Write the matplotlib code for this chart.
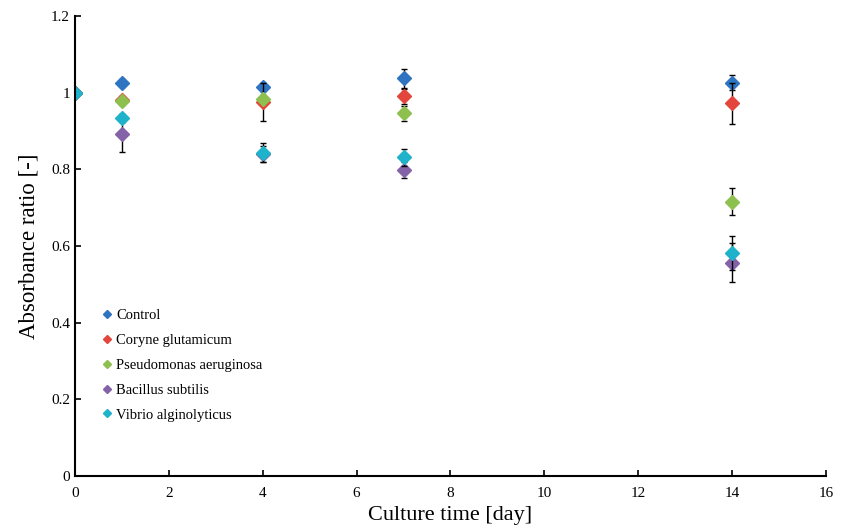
import matplotlib
matplotlib.use("Agg")
import matplotlib.pyplot as plt

# Culture days and absorbance ratios (mean, error) per strain
days = [0, 1, 4, 7, 14]

control = [1.0, 1.025, 1.015, 1.037, 1.026]
control_err = [0.0, 0.01, 0.01, 0.024, 0.02]

coryne = [1.0, 0.98, 0.975, 0.99, 0.972]
coryne_err = [0.0, 0.01, 0.05, 0.02, 0.054]

pseudomonas = [1.0, 0.978, 0.983, 0.946, 0.716]
pseudomonas_err = [0.0, 0.01, 0.01, 0.02, 0.035]

bacillus = [1.0, 0.892, 0.84, 0.798, 0.557]
bacillus_err = [0.0, 0.047, 0.02, 0.021, 0.05]

vibrio = [1.0, 0.934, 0.843, 0.831, 0.581]
vibrio_err = [0.0, 0.01, 0.025, 0.021, 0.044]

series = [
    ("Control", control, control_err, "#2F74C0"),
    ("Coryne glutamicum", coryne, coryne_err, "#E2463C"),
    ("Pseudomonas aeruginosa", pseudomonas, pseudomonas_err, "#8DC04F"),
    ("Bacillus subtilis", bacillus, bacillus_err, "#8462A8"),
    ("Vibrio alginolyticus", vibrio, vibrio_err, "#1FB3CB"),
]

plt.rcParams["font.family"] = ["Liberation Serif", "DejaVu Serif"]

fig = plt.figure(figsize=(8.42, 5.32), dpi=100)
ax = fig.add_axes([0.089, 0.105, 0.892, 0.865])

for name, vals, err, color in series:
    ax.errorbar(days, vals, yerr=err, fmt="none", ecolor="black",
                elinewidth=1, capsize=2.5, capthick=1)
    ax.plot(days, vals, linestyle="none", marker="D", markersize=7.5,
            color=color, markeredgecolor=color, label=name)

ax.set_xlim(0, 16)
ax.set_ylim(0, 1.2)
ax.set_xticks(range(0, 17, 2))
ax.set_yticks([0, 0.2, 0.4, 0.6, 0.8, 1.0, 1.2])
ax.set_yticklabels(["0", "0.2", "0.4", "0.6", "0.8", "1", "1.2"])
ax.tick_params(direction="in", length=4, width=1.2, labelsize=11)
ax.tick_params(axis="x", pad=8)

for side in ("top", "right"):
    ax.spines[side].set_visible(False)
for side in ("left", "bottom"):
    ax.spines[side].set_linewidth(1.5)

ax.set_xlabel("Culture time [day]", fontsize=16, labelpad=4)
ax.set_ylabel("Absorbance ratio [-]", fontsize=16.5, labelpad=8)

ax.legend(loc="upper left", bbox_to_anchor=(0.02, 0.392), frameon=False,
          fontsize=10.5, markerscale=0.6, handlelength=0.6, handletextpad=0.3,
          labelspacing=0.8)

fig.savefig("out.png", dpi=100)
